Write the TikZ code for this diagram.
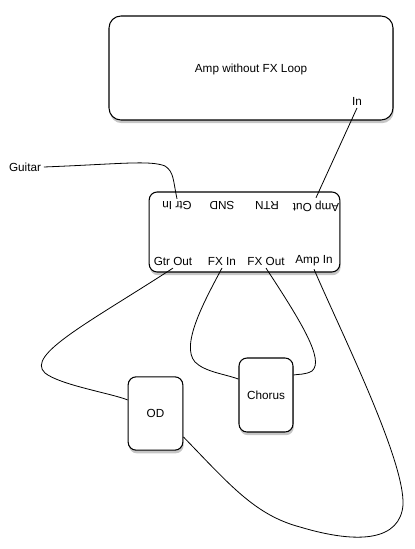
\documentclass[tikz,border=0pt]{standalone}
\usepackage{fontspec}
\setmainfont{Liberation Sans}
\usetikzlibrary{shadows,positioning}

\begin{document}
\begin{tikzpicture}[x=0.75pt,y=-0.75pt,
    box/.style={rectangle,draw,fill=white,rounded corners=6pt,line width=0.8pt,
      drop shadow={shadow xshift=0.6pt,shadow yshift=-2.4pt,opacity=0.45}},
    port/.style={inner sep=2pt,font=\fontsize{8.8}{10}\selectfont},
    cable/.style={line width=0.6pt}]
    \useasboundingbox (0,0) rectangle (414,549);
    \node[box,rounded corners=9pt,minimum width=213pt,minimum height=78pt] (amp) at (251,68) {};
    \node[port] (amptitle) at (251,69) {Amp without FX Loop};
    \node[port] (ampin) at (357,101) {In};
    \node[box,minimum width=143pt,minimum height=60pt] (iface) at (244.5,232) {};
    \node[port,rotate=180] (gtrin) at (177,206) {Gtr In};
    \node[port,rotate=180] (snd) at (222,206) {SND};
    \node[port,rotate=180] (rtn) at (267,206) {RTN};
    \node[port,rotate=180] (ampout) at (316,206) {Amp Out};
    \node[port] (gtrout) at (173,261) {Gtr Out};
    \node[port] (fxin) at (222,261) {FX In};
    \node[port] (fxout) at (266,261) {FX Out};
    \node[port] (ifaceampin) at (314,261) {Amp In};
    \node[port] (guitar) at (25,167) {Guitar};
    \node[box,minimum width=41pt,minimum height=55pt,font=\fontsize{8.8}{10}\selectfont] (od) at (155.5,413.5) {OD};
    \node[box,minimum width=40.5pt,minimum height=55.5pt,font=\fontsize{8.8}{10}\selectfont] (chorus) at (266,395) {Chorus};
    \draw[cable] (guitar.east) .. controls (120,164) and (150,160) .. (165,166)
      .. controls (174,172) and (173,180) .. (gtrin.south);
    \draw[cable] (ampout.south) -- (ampin.south);
    \draw[cable] (gtrout.south) .. controls (90,322) and (25,355) .. (45,373)
      .. controls (60,385) and (110,393) .. (od.154);
    \draw[cable] (fxin.south) .. controls (205,300) and (180,345) .. (195,362)
      .. controls (205,372) and (225,374) .. (chorus.150);
    \draw[cable] (fxout.south) .. controls (300,320) and (325,360) .. (312,371)
      .. controls (305,375) and (298,374) .. (chorus.36);
    \draw[cable] (od.-40) .. controls (230,485) and (255,515) .. (300,527)
      .. controls (360,545) and (400,540) .. (403,505)
      .. controls (405,460) and (340,330) .. (ifaceampin.south);
\end{tikzpicture}
\end{document}
